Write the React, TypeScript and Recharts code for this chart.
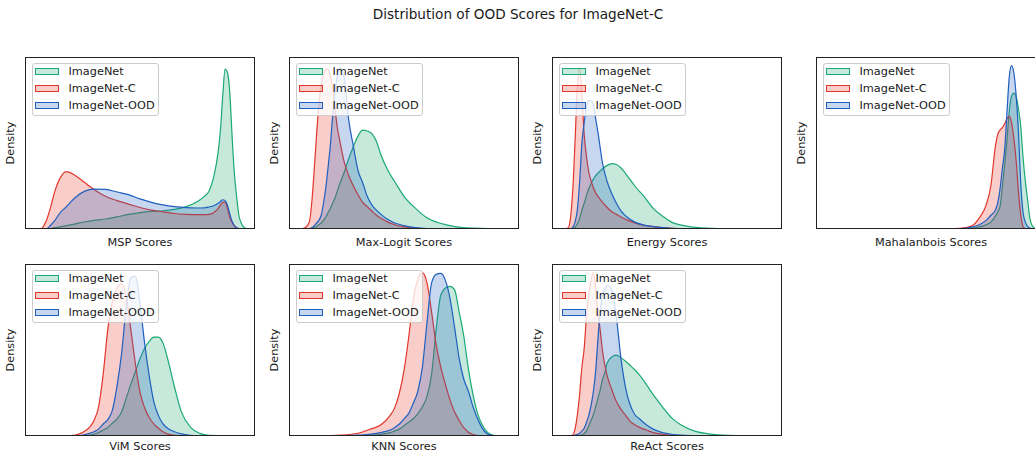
import React from 'react';
import { AreaChart, Area, XAxis, YAxis } from 'recharts';

// ---------- labels ----------
const chartTitle = 'Distribution of OOD Scores for ImageNet-C';
const seriesNames = ['ImageNet', 'ImageNet-C', 'ImageNet-OOD'];
const seriesColors = ['#1aa874', '#e2362a', '#1f5fbf'];
const panelLabels = [
  'MSP Scores',
  'Max-Logit Scores',
  'Energy Scores',
  'Mahalanbois Scores',
  'ViM Scores',
  'KNN Scores',
  'ReAct Scores',
];

// ---------- data (score position 0..100, density scaled to 0..100) ----------
// MSP
const mspX = [0,5,7,9,11,13,15,18,22,26,30,35,40,45,50,55,60,65,70,75,78,80,82,84,85,86,87,88,89,90,91,92,93,94,96,100];
const mspImageNet = [0,0,0,0,0.3,0.8,1.2,2,3,4.2,5,5.8,7,8.5,9.5,10.2,10.6,11.4,13,16,19,22,30,45,58,78,93,91,80,55,33,19,8,3.5,0.4,0];
const mspImageNetC = [0,0,0.2,4,12,22,29,33.4,31,27,23,19,16.5,14.5,12.5,11,10,9,8.5,8.3,8.3,8.5,9.5,12,14,15.5,15.5,12,7,4,2,0.8,0.2,0,0,0];
const mspImageNetOOD = [0,0,0,0,2,5,9,13,18.5,22,23.2,23,21.5,20,17.5,15.5,14,13,12.4,12.2,12.3,12.8,13.5,15,16,17,16.5,14,9,4.5,2,0.7,0.2,0,0,0];

// Max-Logit
const maxLogitX = [0,4,6,8,9,10,11,12,13,14,15,16,17,18,19,20,21,22,24,26,28,30,32,34,36,38,40,43,46,50,55,60,70,80,100];
const maxLogitImageNet = [0,0,0,0,0.3,0.6,1,1.5,2.5,3.5,5,7,9.5,12,15,18,22,26,33,41,48,54,57.5,57,55.5,51,43,34,27.5,19,12,6.5,2,0.5,0];
const maxLogitImageNetC = [0,0,0.3,2,5,17,35,55,72,84,90,93,93,89,82,70,59,52,39,31,25,20,15.5,13,10.5,8,6.3,4,2.5,1.2,0.5,0.2,0,0,0];
const maxLogitImageNetOOD = [0,0,0,0,0.2,0.8,2,3.5,5,8,15,24,36,49,66,80,89,94,88,63,48,34,27,19,14,11,8.5,5.5,3.5,2,0.8,0.3,0,0,0];

// Energy
const energyX = [0,5,7,8,9,10,11,12,13,14,15,16,17,18,19,20,22,24,26,28,30,33,36,40,44,48,52,58,65,75,100];
const energyImageNet = [0,0,0,0,0.3,1,3,6,11,15,19.5,23.5,26.5,29,31,32.5,35,37,38,37.5,35.5,30.5,25,19,12,7.5,4,1.8,0.6,0.1,0];
const energyImageNetC = [0,0,0.5,6,22,50,82,94,78,55,42,33,28,24,21,19,15.5,12.5,10,8.5,7,5,3.5,2.2,1.4,0.8,0.4,0.1,0,0,0];
const energyImageNetOOD = [0,0,0,0,1,4,11,27,50,62,71,74.5,74.5,72,64,56,38,27.5,20.5,15,10.5,6.5,4,2.3,1.4,0.8,0.4,0.1,0,0,0];

// Mahalanobis
const mahaX = [0,50,60,65,68,71,74,76,78,79,80,81,82,83,84,85,86,87,88,89,90,91,92,93,94,95,96,98,100];
const mahaImageNet = [0,0,0,0,0.5,1.2,2.5,4,7.5,10,13,24,37,51,68,77,79,77,70,60,42,28,17,6,2,0.6,0.2,0,0];
const mahaImageNetC = [0,0,0.2,0.8,2,6.5,14,25,48,55,57.5,59,61,64,65.5,62,53,40,22,8.5,1.5,0.2,0,0,0,0,0,0,0];
const mahaImageNetOOD = [0,0,0.1,0.4,1.2,2.5,5,8,11,15,23,35,46,67,88,95,91,78,57,27,10,4,1.5,0.5,0.1,0,0,0,0];

// ViM
const vimX = [0,15,20,22,25,28,30,32,34,36,38,40,42,44,46,48,50,52,54,56,58,60,62,65,68,72,76,80,100];
const vimImageNet = [0,0,0,0,0,0.5,1,2,3.5,5,7.5,10,14,22,30,37.5,45,51,55,57.5,57.5,54,45,28.5,14,5,1.5,0.4,0];
const vimImageNetC = [0,0,0.3,0.6,2,5,9,17,36,62,78,86,88.5,81,62,42,25.5,16.4,10.8,7,4.5,2.5,1.2,0.4,0.1,0,0,0,0];
const vimImageNetOOD = [0,0,0,0,0.5,1.5,2.5,4,7,9.5,15,29,48,75,92,93,77,54,35,20,12,7,4.5,2.5,1.2,0.4,0.1,0,0];

// KNN
const knnX = [0,15,22,30,35,40,44,46,48,50,52,54,56,58,60,62,64,66,68,70,72,74,76,78,80,82,84,86,88,90,95,100];
const knnImageNet = [0,0,0,0.2,0.5,1,2,3,4,6,8,10,13,17,23,36,62,82,86,87,85,72,58,39,24,13,6.5,2.5,0.8,0.2,0,0];
const knnImageNetC = [0,0.2,0.5,1.6,3.8,6.5,12,16.5,25,38,57,79,91,95,89,72,53,40,30,21,14,9,4.8,2.2,0.9,0.3,0,0,0,0,0,0];
const knnImageNetOOD = [0,0,0.2,0.5,1,2,3.5,5,7,10,13,19,26,40,66,89,94,94.5,90.5,80,63,45,33,26,17,10,4.6,1.5,0.4,0,0,0];

// ReAct
const reactX = [0,7,9,10,11,12,13,14,15,16,17,18,19,20,21,22,23,24,26,28,30,32,34,36,38,41,44,48,52,56,62,70,80,100];
const reactImageNet = [0,0,0,0,0,0,0.5,1.5,3,6,9,12.5,17,22,27,33,37,42.5,46,47,45.5,43.5,41,38.5,35.5,30,24,17,10.5,6.5,2.8,1,0.3,0];
const reactImageNetC = [0,0,0.5,4,12,24,40,51,70,82,91,95,86,72,61,49,41,35,27,20,15.5,12,8.5,6.5,5,3.5,2,1,0.5,0.2,0.1,0,0,0];
const reactImageNetOOD = [0,0,0,0.5,1,1.5,3,4.5,8,12,18,26,38,57,73,82,85.5,87.5,85,69,45,28,18,12.5,10,6.5,4,2,1,0.5,0.2,0,0,0];

const panelSeries: number[][][] = [
  [mspX, mspImageNet, mspImageNetC, mspImageNetOOD],
  [maxLogitX, maxLogitImageNet, maxLogitImageNetC, maxLogitImageNetOOD],
  [energyX, energyImageNet, energyImageNetC, energyImageNetOOD],
  [mahaX, mahaImageNet, mahaImageNetC, mahaImageNetOOD],
  [vimX, vimImageNet, vimImageNetC, vimImageNetOOD],
  [knnX, knnImageNet, knnImageNetC, knnImageNetOOD],
  [reactX, reactImageNet, reactImageNetC, reactImageNetOOD],
];

// ---------- layout ----------
const FRAME_W = 230;
const FRAME_H = 172;
const colLefts = [25, 289, 552, 816];
const rowTops = [57, 264];
const xLabelOffsets = [9.8, 7.3];
const FONT = "'DejaVu Sans', sans-serif";
const LABEL_SIZE = 11.3;

function alpha(hex: string, a: number) {
  const r = parseInt(hex.slice(1, 3), 16);
  const g = parseInt(hex.slice(3, 5), 16);
  const b = parseInt(hex.slice(5, 7), 16);
  return `rgba(${r},${g},${b},${a})`;
}

function LegendBox({ left, top }: { left: number; top: number }) {
  return (
    <div
      style={{
        position: 'absolute',
        left,
        top,
        width: 127,
        height: 53,
        boxSizing: 'border-box',
        background: 'rgba(255,255,255,0.8)',
        border: '1px solid #cccccc',
        borderRadius: 3,
      }}
    >
      {seriesNames.map((name, i) => (
        <React.Fragment key={name}>
          <div
            style={{
              position: 'absolute',
              left: 2,
              top: 4.3 + i * 17,
              width: 24,
              height: 7,
              boxSizing: 'border-box',
              background: alpha(seriesColors[i], 0.25),
              border: `1px solid ${seriesColors[i]}`,
            }}
          />
          <div
            style={{
              position: 'absolute',
              left: 35.5,
              top: 1.3 + i * 17,
              fontSize: LABEL_SIZE,
              lineHeight: '13.2px',
              color: '#1a1a1a',
              whiteSpace: 'nowrap',
            }}
          >
            {name}
          </div>
        </React.Fragment>
      ))}
    </div>
  );
}

function Panel({ index }: { index: number }) {
  const [xs, g, r, b] = panelSeries[index];
  const data = xs.map((x, i) => ({ x, g: g[i], r: r[i], b: b[i] }));
  const row = Math.floor(index / 4);
  const left = colLefts[index % 4];
  const top = rowTops[row];
  const keys = ['g', 'r', 'b'];
  return (
    <>
      <div style={{ position: 'absolute', left, top, width: FRAME_W, height: FRAME_H }}>
        <AreaChart width={FRAME_W} height={FRAME_H} data={data} margin={{ top: 0, right: 0, bottom: 0, left: 0 }}>
          <XAxis type="number" dataKey="x" domain={[0, 100]} hide height={0} />
          <YAxis type="number" domain={[0, 100]} hide width={0} />
          {keys.map((k, i) => (
            <Area
              key={k}
              type="monotone"
              dataKey={k}
              stroke={seriesColors[i]}
              strokeWidth={1.2}
              fill={seriesColors[i]}
              fillOpacity={0.25}
              isAnimationActive={false}
              dot={false}
              activeDot={false}
            />
          ))}
        </AreaChart>
      </div>
      <div
        style={{
          position: 'absolute',
          left,
          top,
          width: FRAME_W,
          height: FRAME_H,
          boxSizing: 'border-box',
          border: '1px solid #222',
          pointerEvents: 'none',
        }}
      />
      <LegendBox left={left + 7} top={top + 6} />
      <div
        style={{
          position: 'absolute',
          left,
          top: top + FRAME_H + xLabelOffsets[row],
          width: FRAME_W,
          textAlign: 'center',
          fontSize: LABEL_SIZE,
          lineHeight: '8px',
          color: '#1a1a1a',
          whiteSpace: 'nowrap',
        }}
      >
        {panelLabels[index]}
      </div>
      <div
        style={{
          position: 'absolute',
          left: left - 14,
          top: top + FRAME_H / 2,
          transform: 'translate(-50%, -50%) rotate(-90deg)',
          fontSize: LABEL_SIZE,
          lineHeight: '13.2px',
          color: '#1a1a1a',
          whiteSpace: 'nowrap',
        }}
      >
        Density
      </div>
    </>
  );
}

export default function App() {
  return (
    <div
      style={{
        position: 'absolute',
        left: 0,
        top: 0,
        width: 1035,
        height: 454,
        overflow: 'hidden',
        background: '#ffffff',
        fontFamily: FONT,
      }}
    >
      <div
        style={{
          position: 'absolute',
          left: 0,
          top: 5.5,
          width: 1036,
          textAlign: 'center',
          fontSize: 13.6,
          lineHeight: '16px',
          color: '#1a1a1a',
          whiteSpace: 'nowrap',
        }}
      >
        {chartTitle}
      </div>
      {panelLabels.map((_, i) => (
        <Panel key={i} index={i} />
      ))}
    </div>
  );
}
